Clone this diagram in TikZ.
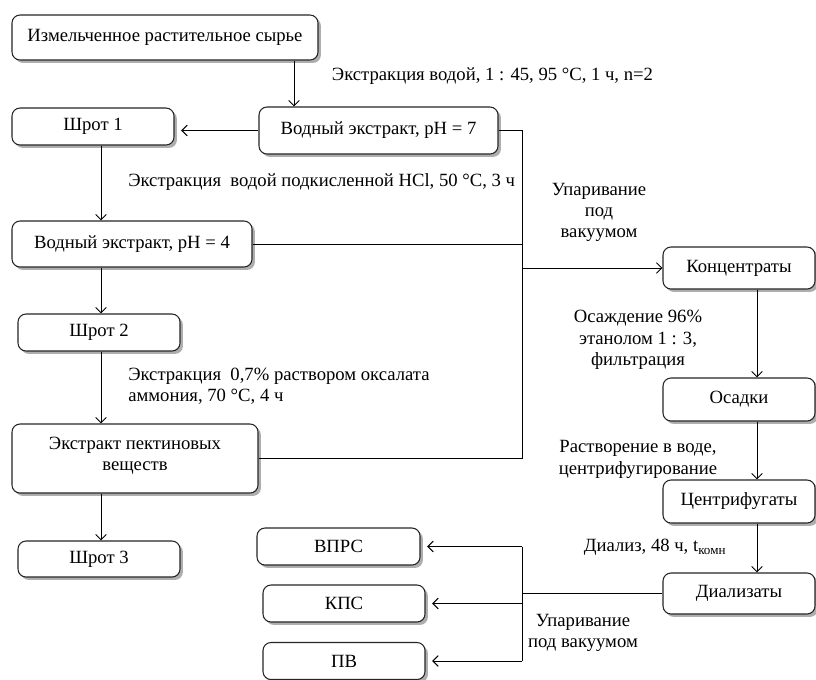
\documentclass[tikz,border=0pt]{standalone}
\usepackage{fontspec}
\setmainfont{Liberation Serif}
\usetikzlibrary{arrows.meta,shadows}
\begin{document}
\begin{tikzpicture}[x=0.75pt,y=-0.75pt,
  box/.style={draw=black!85, line width=0.8pt, rounded corners=6pt, fill=white,
    drop shadow={shadow xshift=2.2pt, shadow yshift=-2.2pt, fill=black!45, opacity=0.7},
    inner sep=0pt, align=center, font=\fontsize{14}{16}\selectfont},
  sz/.style 2 args={minimum width={#1*0.75pt}, minimum height={#2*0.75pt}},
  lbl/.style={inner sep=0pt, align=center, font=\fontsize{14}{16}\selectfont},
  conn/.style={line width=0.75pt, draw=black},
  arr/.style={conn, -{Straight Barb[length=4pt,width=8pt]}},
  larr/.style={arr, shorten >=5pt},
]
\clip (0,0) rectangle (816,679);
\fill[white] (0,0) rectangle (816,679);
% boxes
\node[box, sz={306}{45}] (raw) at (165,37.5) {Измельченное растительное сырье};
\node[box, sz={239}{47}] (ext7) at (378.5,130.5) {Водный экстракт, pH = 7};
\node[box, sz={162}{37}] (sh1) at (93,126.5) {Шрот 1};
\node[box, sz={240}{46}] (ext4) at (132,244) {Водный экстракт, pH = 4};
\node[box, sz={162}{37}] (sh2) at (99,332.5) {Шрот 2};
\node[box, sz={246}{69}] (pect) at (135,458.5) {Экстракт пектиновых\\веществ\\[-9pt]\mbox{}};
\node[box, sz={162}{36}] (sh3) at (99,559) {Шрот 3};
\node[box, sz={152}{42}] (conc) at (739,268) {Концентраты};
\node[box, sz={152}{43}] (osad) at (739,399.5) {Осадки};
\node[box, sz={152}{43}] (centr) at (739,501.5) {Центрифугаты};
\node[box, sz={152}{41}] (dial) at (739,593.5) {Диализаты};
\node[box, sz={163}{37}] (vprs) at (338.5,546.5) {ВПРС};
\node[box, sz={162}{37}] (kps) at (344,603.5) {КПС};
\node[box, sz={162}{37}] (pv) at (344,661) {ПВ};
% guide coordinates
\coordinate (xa) at (294,0);
\coordinate (xb) at (101,0);
\coordinate (bus) at (522,0);
\coordinate (xc) at (757,0);
% connectors
\draw[arr] (raw.south -| xa) -- (ext7.north -| xa);
\draw[larr] (ext7.west) -- (sh1.east |- ext7.west);
\draw[arr] (sh1.south -| xb) -- (ext4.north -| xb);
\draw[arr] (ext4.south -| xb) -- (sh2.north -| xb);
\draw[arr] (sh2.south -| xb) -- (pect.north -| xb);
\draw[arr] (pect.south -| xb) -- (sh3.north -| xb);
\draw[conn] (ext7.east) -- (ext7.east -| bus) -- (pect.east -| bus) -- (pect.east);
\draw[conn] (ext4.east) -- (ext4.east -| bus);
\draw[arr] (conc.west -| bus) -- (conc.west);
\draw[arr] (conc.south -| xc) -- (osad.north -| xc);
\draw[arr] (osad.south -| xc) -- (centr.north -| xc);
\draw[arr] (centr.south -| xc) -- (dial.north -| xc);
\draw[conn] (dial.west) -- (dial.west -| bus);
\draw[conn] (vprs.east -| bus) -- (pv.east -| bus);
\draw[larr] (vprs.east -| bus) -- (vprs.east);
\draw[larr] (kps.east -| bus) -- (kps.east);
\draw[larr] (pv.east -| bus) -- (pv.east);
% labels
\node[lbl] (l1) at (492.5,76) {Экстракция водой, 1 : 45, 95 °C, 1 ч, n=2};
\node[lbl, anchor=west] (l2) at (128,182) {Экстракция\ \ водой подкисленной HCl, 50 °C, 3 ч};
\node[lbl] (l3) at (599,212.5) {Упаривание\\под\\вакуумом};
\node[lbl, anchor=west, align=left] (l4) at (128,386) {Экстракция\ \ 0,7\% раствором оксалата\\аммония, 70 °C, 4 ч};
\node[lbl] (l5) at (638,340) {Осаждение 96\%\\этанолом 1 : 3,\\фильтрация};
\node[lbl] (l6) at (638,459.5) {Растворение в воде,\\центрифугирование};
\node[lbl] (l7) at (655,547) {Диализ, 48 ч, t\textsubscript{комн}};
\node[lbl] (l8) at (583,633) {Упаривание\\под вакуумом};
\end{tikzpicture}
\end{document}
